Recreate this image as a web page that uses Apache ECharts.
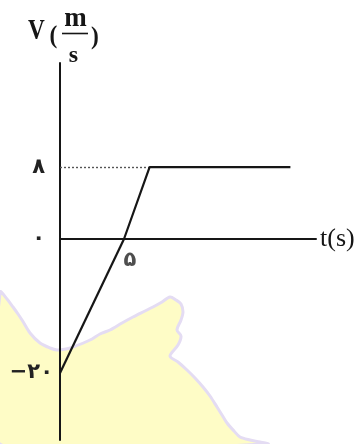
<!DOCTYPE html>
<html>
<head>
<meta charset="utf-8">
<script src="https://cdn.jsdelivr.net/npm/echarts@6/dist/echarts.min.js"></script>
<style>
  html, body { margin: 0; padding: 0; background: #fff; }
  #chart { width: 364px; height: 444px; }
</style>
</head>
<body>
<div id="chart"></div>
<script>
// Velocity–time graph: v rises linearly from -20 m/s, crosses zero at t = 5 s,
// reaches 8 m/s at t = 7 s and then stays constant.
const risingPart = [[0, -20], [5, 0]];          // below the time axis
const upperPart = [[5, 0], [7, 8], [18, 8]];    // above the time axis
const crossing = [[5, 0]];
const crossingLabel = '۵';
const upperTicks = [0, 8];
const lowerTicks = [-20];
const tickText = { '0': '۰', '8': '۸', '-20': '−۲۰' };

const ink = '#161616';
const serif = 'Liberation Serif, Times New Roman, serif';
const digitFont = 'DejaVu Sans, Noto Sans, sans-serif';

const chart = echarts.init(document.getElementById('chart'), null, { renderer: 'canvas' });

function labelFormatter(list) {
  return function (v) {
    return list.indexOf(v) >= 0 ? tickText[String(v)] : '';
  };
}

// background wash in the lower-left corner
const washPoints = [
  [0, 292], [7, 299], [13, 307], [18, 314], [22, 320], [30, 333], [40, 343], [50, 348],
  [57, 350], [66, 349], [73, 347], [90, 340], [100, 334], [110, 330], [122, 323],
  [133, 317], [145, 311], [153, 307], [162, 302], [170, 297], [176, 300], [181, 304],
  [183, 312], [181, 320], [177, 330], [181, 336], [178, 345], [170, 356], [178, 362],
  [187, 370], [195, 378], [203, 387], [210, 396], [217, 407], [222, 415], [227, 423],
  [234, 431], [240, 437], [250, 440], [260, 442], [268, 444], [0, 444]
];

const option = {
  backgroundColor: '#ffffff',
  animation: false,
  grid: [
    { left: 60, width: 256, top: 63, bottom: 205 },
    { left: 60, width: 256, top: 239, bottom: 4 }
  ],
  xAxis: [
    {
      gridIndex: 0, type: 'value', min: 0, max: 20,
      axisLine: { show: true, lineStyle: { color: ink, width: 2 } },
      axisTick: { show: false }, axisLabel: { show: false }, splitLine: { show: false },
      name: 't(s)', nameLocation: 'end', nameGap: 4,
      nameTextStyle: { fontFamily: serif, fontSize: 26, color: ink, verticalAlign: 'middle' }
    },
    {
      gridIndex: 1, type: 'value', min: 0, max: 20, show: false
    }
  ],
  yAxis: [
    {
      gridIndex: 0, type: 'value', min: 0, max: 19.6, interval: 8,
      axisLine: { show: true, lineStyle: { color: ink, width: 2 } },
      axisTick: { show: false }, splitLine: { show: false },
      axisLabel: {
        show: true, formatter: labelFormatter(upperTicks), margin: 15,
        fontFamily: digitFont, fontSize: 21, fontWeight: 'bold', color: '#222',
        showMaxLabel: false
      }
    },
    {
      gridIndex: 1, type: 'value', min: -30, max: 0, interval: 10,
      axisLine: { show: true, lineStyle: { color: ink, width: 2 } },
      axisTick: { show: false }, splitLine: { show: false },
      axisLabel: {
        show: true, formatter: labelFormatter(lowerTicks), margin: 7,
        fontFamily: digitFont, fontSize: 21, fontWeight: 'bold', color: '#222',
        padding: [8, 0, 0, 0]
      }
    }
  ],
  graphic: [
    {
      type: 'polygon', z: -10, silent: true,
      shape: { points: washPoints, smooth: 0.3 },
      style: { fill: '#fefcc6', stroke: '#e4dcf3', lineWidth: 3 }
    },
    // axis title V(m/s)
    {
      type: 'text', x: 36.5, y: 32, scaleX: 0.8,
      style: { text: 'V', fontFamily: serif, fontSize: 29, fontWeight: 'bold', fill: ink,
        textAlign: 'center', textVerticalAlign: 'middle' }
    },
    {
      type: 'text', x: 53.5, y: 36, scaleX: 0.9,
      style: { text: '(', fontFamily: serif, fontSize: 26, fontWeight: 'bold', fill: ink,
        textAlign: 'center', textVerticalAlign: 'middle' }
    },
    {
      type: 'text', x: 75.5, y: 19,
      style: { text: 'm', fontFamily: serif, fontSize: 27, fontWeight: 'bold', fill: ink,
        textAlign: 'center', textVerticalAlign: 'middle' }
    },
    {
      type: 'line', shape: { x1: 62, y1: 33.5, x2: 88, y2: 33.5 },
      style: { stroke: ink, lineWidth: 1.6 }
    },
    {
      type: 'text', x: 73.5, y: 56,
      style: { text: 's', fontFamily: serif, fontSize: 24, fontWeight: 'bold', fill: ink,
        textAlign: 'center', textVerticalAlign: 'middle' }
    },
    {
      type: 'text', x: 95, y: 37, scaleX: 0.9,
      style: { text: ')', fontFamily: serif, fontSize: 26, fontWeight: 'bold', fill: ink,
        textAlign: 'center', textVerticalAlign: 'middle' }
    }
  ],
  series: [
    {
      type: 'line', xAxisIndex: 1, yAxisIndex: 1, data: risingPart,
      symbol: 'none', lineStyle: { color: ink, width: 2.2 }, z: 5
    },
    {
      type: 'line', xAxisIndex: 0, yAxisIndex: 0, data: upperPart,
      symbol: 'none', lineStyle: { color: ink, width: 2.2 }, z: 5,
      markLine: {
        silent: true, symbol: 'none', label: { show: false },
        lineStyle: { color: '#555', width: 1.4, type: [2, 2] },
        data: [[{ coord: [0, 8] }, { coord: [7, 8] }]]
      }
    },
    {
      type: 'scatter', xAxisIndex: 1, yAxisIndex: 1, data: crossing,
      symbolSize: 2, itemStyle: { color: ink }, z: 6,
      label: {
        show: true, formatter: crossingLabel, position: 'inside', offset: [6, 22],
        fontFamily: digitFont, fontSize: 21, fontWeight: 'bold', color: '#222'
      }
    }
  ]
};

chart.setOption(option);
</script>
</body>
</html>
